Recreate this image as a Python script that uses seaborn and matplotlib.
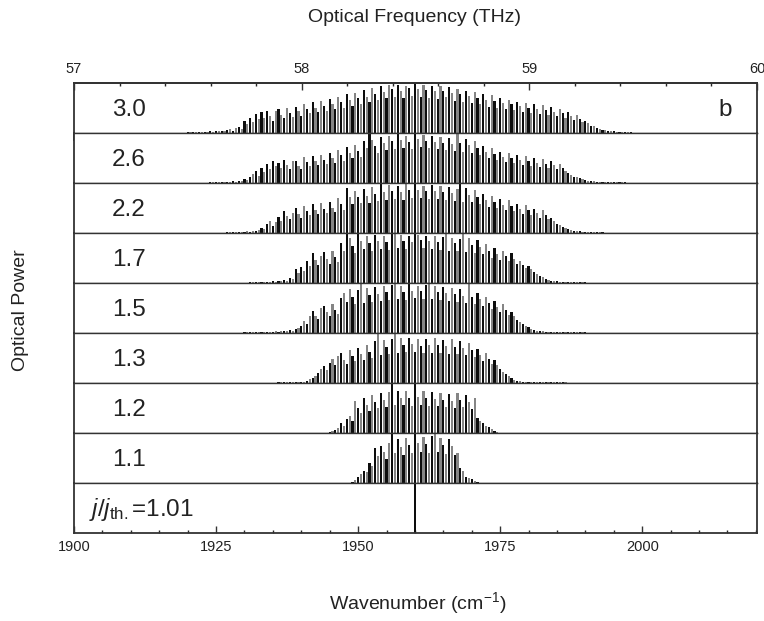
import numpy as np
import pandas as pd
import matplotlib
matplotlib.use("Agg")
import matplotlib.pyplot as plt
from matplotlib.ticker import MultipleLocator, FixedLocator
from matplotlib import font_manager
import seaborn as sns

# ---------------- data (heights in % of panel height, lines every 0.5 cm-1) -------------
panel_labels = ["3.0", "2.6", "2.2", "1.7", "1.5", "1.3", "1.2", "1.1", r"$j/j_{\rm th.}$=1.01"]
line_step = 0.5

start_30 = 1920.0
h_30 = [2, 3, 2, 3, 3, 2, 3, 3, 4, 3, 4, 4, 5, 4,
        6, 8, 5, 10, 12, 9,
        25, 18, 30, 22, 38, 28,
        42, 30, 45, 35, 25, 44,
        48, 36, 30, 50, 40, 33,
        52, 44, 35, 58, 48, 40,
        62, 50, 42, 64, 55, 45,
        68, 58, 48, 72, 62, 50,
        78, 66, 55, 80, 70, 58,
        86, 72, 62, 90, 78, 66,
        95, 82, 70, 96, 88, 72,
        97, 85, 70, 95, 90, 75,
        120, 88, 72, 96, 86, 70,
        95, 84, 68, 94, 85, 72,
        92, 80, 65, 88, 78, 62,
        85, 74, 60, 82, 70, 58,
        78, 66, 52, 76, 64, 50,
        70, 60, 48, 66, 58, 46,
        62, 55, 42, 60, 50, 40,
        58, 48, 38, 56, 46, 36,
        52, 42, 34, 48, 40, 30,
        42, 34, 26, 36, 28, 22,
        25, 20, 15, 14, 10, 8,
        7, 6, 5, 4, 4, 3, 3, 3, 2, 3, 2]

start_26 = 1924.0
h_26 = [2, 2, 3, 2, 3, 3, 2, 3, 4, 3, 4, 5,
        8, 6, 12, 18, 25, 15,
        30, 22, 38, 28, 45, 35,
        40, 30, 46, 36, 28, 44,
        45, 34, 28, 52, 42, 35,
        55, 44, 36, 56, 46, 38,
        60, 50, 40, 66, 56, 45,
        72, 60, 50, 76, 64, 52,
        85, 70, 120, 86, 74, 60,
        92, 80, 66, 95, 84, 68,
        120, 86, 70, 94, 82, 68,
        120, 88, 72, 96, 84, 70,
        94, 82, 68, 92, 80, 66,
        90, 78, 64, 110, 80, 62,
        88, 76, 60, 84, 70, 56,
        74, 62, 50, 70, 58, 46,
        62, 52, 42, 60, 50, 40,
        56, 46, 36, 54, 44, 34,
        50, 40, 32, 48, 38, 30,
        45, 36, 28, 38, 30, 24,
        20, 16, 12, 12, 10, 8,
        6, 5, 4, 4, 3, 3, 3, 3, 2, 3, 2, 2, 2, 2, 2]

start_22 = 1927.0
h_22 = [2, 3, 2, 3, 3, 2, 3, 4, 3, 4, 5, 6,
        10, 8, 18, 25, 15, 22,
        32, 24, 45, 34, 28, 40,
        50, 38, 30, 55, 44, 36,
        58, 46, 38, 60, 48, 40,
        62, 50, 42, 70, 58, 46,
        90, 72, 58, 85, 72, 60,
        88, 74, 60, 92, 78, 64,
        120, 82, 66, 96, 84, 68,
        94, 82, 66, 98, 86, 70,
        120, 86, 70, 95, 84, 68,
        96, 84, 68, 94, 82, 66,
        92, 80, 64, 88, 120, 62,
        90, 76, 62, 86, 72, 58,
        78, 66, 52, 74, 62, 50,
        68, 56, 46, 66, 54, 44,
        58, 48, 38, 56, 46, 36,
        48, 40, 30, 46, 36, 28,
        30, 24, 18, 16, 12, 10,
        9, 7, 5, 4, 4, 3, 3, 3, 2, 3, 2, 2, 2]

start_17 = 1931.0
h_17 = [2, 3, 2, 3, 3, 2, 3, 3, 4, 3, 4, 5, 6, 5,
        10, 8, 28, 20, 32, 24,
        45, 34, 60, 46, 36, 55,
        62, 48, 38, 65, 52, 42,
        80, 64, 120, 90, 74, 60,
        120, 84, 68, 94, 80, 64,
        96, 84, 68, 95, 82, 66,
        98, 120, 70, 96, 84, 68,
        94, 82, 120, 96, 86, 70,
        95, 84, 68, 94, 82, 66,
        92, 120, 64, 90, 80, 64,
        88, 120, 62, 90, 76, 60,
        86, 72, 58, 78, 64, 50,
        70, 58, 46, 64, 54, 44,
        60, 48, 38, 45, 36, 30,
        35, 28, 22, 18, 14, 12,
        9, 7, 5, 4, 4, 3, 3, 3, 2, 3, 2, 2, 2, 2, 2]

start_15 = 1930.0
h_15 = [2, 2, 3, 2, 3, 3, 2, 3, 2, 3, 3, 4, 3, 4, 4, 5,
        6, 5, 8, 10, 14, 25,
        18, 35, 45, 34, 28, 50,
        55, 42, 34, 58, 46, 38,
        70, 80, 62, 88, 72, 58,
        86, 120, 60, 90, 76, 62,
        92, 78, 64, 95, 82, 66,
        96, 120, 68, 94, 82, 66,
        98, 84, 70, 95, 84, 68,
        96, 120, 68, 94, 82, 66,
        92, 80, 64, 90, 78, 62,
        88, 74, 60, 120, 72, 58,
        80, 68, 54, 72, 60, 48,
        64, 52, 42, 58, 46, 36,
        42, 34, 26, 22, 18, 14,
        12, 9, 7, 5, 4, 4, 3, 3, 3, 2, 3, 2, 3, 2, 3, 2, 2, 3, 2, 2, 2]

start_13 = 1936.0
h_13 = [2, 2, 2, 3, 2, 2, 3, 2, 3, 3,
        5, 8, 10, 14, 20, 28,
        34, 26, 40, 48, 36, 55,
        60, 46, 38, 66, 54, 44,
        70, 58, 46, 76, 62, 50,
        84, 120, 56, 86, 72, 58,
        88, 120, 60, 90, 76, 62,
        90, 78, 62, 88, 74, 60,
        88, 76, 60, 90, 76, 60,
        86, 74, 58, 88, 72, 58,
        84, 70, 56, 80, 66, 52,
        68, 56, 44, 60, 48, 38,
        46, 36, 28, 22, 18, 14,
        10, 7, 5, 4, 3, 3, 2, 3, 2, 2, 3, 2, 2, 3, 2, 2, 2, 2, 2, 2]

start_12 = 1945.0
h_12 = [3, 4, 6, 10, 20, 15,
        28, 35, 25, 65, 50, 40,
        70, 56, 44, 76, 62, 50,
        80, 66, 52, 82, 120, 56,
        84, 70, 56, 84, 70, 54,
        120, 72, 56, 85, 70, 54,
        82, 68, 54, 80, 66, 52,
        78, 64, 50, 80, 66, 52,
        76, 62, 48, 70, 30, 25,
        20, 15, 12, 8, 5, 3]

start_11 = 1949.0
h_11 = [3, 6, 12, 18,
        25, 22, 40, 35, 70, 55,
        75, 62, 48, 80, 120, 60,
        88, 72, 56, 90, 76, 60,
        120, 80, 62, 92, 78, 60,
        94, 120, 62, 90, 76, 58,
        88, 74, 56, 60, 30, 24,
        12, 10, 8, 5, 3]

start_101 = 1960.0
h_101 = [120]

panel_starts = [start_30, start_26, start_22, start_17, start_15, start_13, start_12, start_11, start_101]
panel_heights = [h_30, h_26, h_22, h_17, h_15, h_13, h_12, h_11, h_101]

wn_ticks = [1900, 1925, 1950, 1975, 2000]
thz_ticks = [57, 58, 59, 60]

# ---------------- style ----------------
sns.set_theme(style="white")


def pick(fams):
    for f in fams:
        try:
            font_manager.findfont(f, fallback_to_default=False)
            return f
        except Exception:
            pass
    return "DejaVu Sans"


base_font = pick(["Liberation Sans", "Arimo", "DejaVu Sans"])
narrow_font = pick(["Liberation Sans Narrow", base_font])
plt.rcParams["font.family"] = [base_font, "DejaVu Sans"]
plt.rcParams["mathtext.fontset"] = "custom"
plt.rcParams["mathtext.rm"] = base_font
plt.rcParams["mathtext.it"] = base_font + ":italic"

W, H = 764, 621
fig = plt.figure(figsize=(W / 100, H / 100), dpi=100)
L, R, T, B = 74 / W, 757 / W, 1 - 83 / H, 1 - 533 / H
gs = fig.add_gridspec(9, 1, left=L, right=R, bottom=B, top=T, hspace=0)
axes = [fig.add_subplot(gs[i]) for i in range(9)]

pal = {"k": "#0d0d0d", "g": "#858585"}
text_col = "#222222"

for i, ax in enumerate(axes):
    h = np.asarray(panel_heights[i], dtype=float) / 100.0
    wn = panel_starts[i] + line_step * np.arange(len(h))
    tone = ["k" if j % 2 == 0 else "g" for j in range(len(h))]
    df = pd.DataFrame({"wn": wn, "power": h, "tone": tone})
    width = 0.76 if len(h) > 1 else 0.28
    sns.barplot(data=df, x="wn", y="power", hue="tone", hue_order=["k", "g"],
                palette=pal, native_scale=True, width=width, linewidth=0,
                errorbar=None, legend=False, dodge=False, saturation=1,
                orient="x", ax=ax)
    ax.set_xlim(1900, 2020.2)
    ax.set_ylim(0, 1)
    ax.set_xlabel("")
    ax.set_ylabel("")
    ax.set_yticks([])
    for s in ax.spines.values():
        s.set_color("#333333")
        s.set_linewidth(1.0)
    ax.spines["left"].set_linewidth(1.3)
    ax.spines["right"].set_linewidth(1.3)
    if i < 8:
        ax.tick_params(axis="x", which="both", bottom=False, top=False,
                       labelbottom=False)
    lx = 0.056 if i < 8 else 0.022
    ax.text(lx, 0.47, panel_labels[i], transform=ax.transAxes, ha="left",
            va="center", fontsize=17.5, color=text_col)

axes[0].spines["top"].set_linewidth(1.3)
axes[-1].spines["bottom"].set_linewidth(1.3)
axes[0].text(0.953, 0.47, "b", transform=axes[0].transAxes, ha="center",
             va="center", fontsize=17.5, color=text_col)

# bottom axis
axb = axes[-1]
axb.xaxis.set_major_locator(FixedLocator(wn_ticks))
axb.xaxis.set_minor_locator(MultipleLocator(5))
axb.tick_params(axis="x", which="major", direction="in", length=5, width=1.0,
                bottom=True, labelbottom=True, labelsize=10.5, pad=5,
                colors="#333333", labelcolor=text_col)
axb.tick_params(axis="x", which="minor", direction="in", length=2.5, width=1.0,
                bottom=True)
for lab in axb.get_xticklabels():
    lab.set_fontfamily(narrow_font)

# top axis in THz
axt = axes[0].twiny()
axt.set_xlim(57, 60)
axt.xaxis.set_major_locator(FixedLocator(thz_ticks))
axt.xaxis.set_minor_locator(MultipleLocator(0.2))
axt.tick_params(axis="x", which="major", direction="in", length=5, width=1.0,
                top=True, labeltop=True, bottom=False, labelbottom=False,
                labelsize=10.5, pad=5, colors="#333333", labelcolor=text_col)
axt.tick_params(axis="x", which="minor", direction="in", length=2.5, width=1.0,
                top=True, bottom=False)
axt.set_yticks([])
for s in ["left", "right", "bottom"]:
    axt.spines[s].set_visible(False)
axt.spines["top"].set_color("#333333")
axt.spines["top"].set_linewidth(1.3)
for lab in axt.get_xticklabels():
    lab.set_fontfamily(narrow_font)

# axis titles
fig.text(415 / W, 1 - 18 / H, "Optical Frequency (THz)", ha="center", va="center",
         fontsize=14, color=text_col, family=narrow_font)
fig.text(418 / W, 1 - 603 / H, r"Wavenumber (cm$^{-1}$)", ha="center", va="center",
         fontsize=14, color=text_col, family=narrow_font)
fig.text(21 / W, 1 - 310 / H, "Optical Power", ha="center", va="center",
         rotation=90, fontsize=14, color=text_col, family=narrow_font)

fig.savefig("out.png", dpi=100)
